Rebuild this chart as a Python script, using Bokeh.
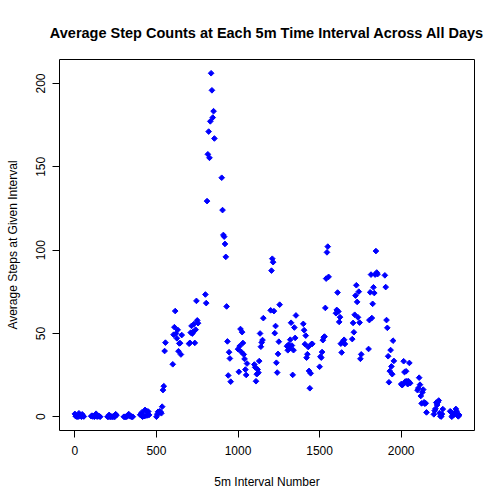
from bokeh.plotting import figure
from bokeh.models import Range1d, FixedTicker, ColumnDataSource
from bokeh.embed import file_html
from bokeh.resources import INLINE

intervals = [h * 100 + m for h in range(24) for m in range(0, 60, 5)]

avg_steps = [
    1.72, 0.34, 0.13, 0.15, 0.08, 2.09, 0.53, 0.87, 0.00, 1.47, 0.30, 0.13,
    0.32, 0.68, 0.15, 0.34, 0.00, 1.11, 1.83, 0.17, 0.17, 0.38, 0.26, 0.00,
    0.00, 0.00, 1.13, 0.00, 0.00, 0.13, 0.00, 0.23, 0.00, 0.00, 1.55, 0.94,
    0.00, 0.00, 0.00, 0.00, 0.21, 0.62, 1.62, 0.58, 0.49, 0.08, 0.00, 0.00,
    1.19, 0.94, 2.57, 0.00, 0.34, 0.36, 4.11, 0.66, 3.49, 0.83, 3.11, 1.11,
    0.00, 1.57, 3.00, 2.25, 3.32, 2.96, 2.09, 6.06, 16.02, 18.34, 39.45, 44.49,
    31.49, 49.26, 53.77, 63.45, 49.96, 47.08, 52.15, 39.34, 44.02, 44.17, 37.36, 49.04,
    43.81, 44.38, 50.51, 54.51, 49.92, 50.98, 55.68, 44.32, 52.26, 69.55, 57.85, 56.15,
    73.38, 68.21, 129.43, 157.53, 171.15, 155.40, 177.30, 206.17, 195.92, 179.57, 183.40, 167.02,
    143.45, 124.04, 109.11, 108.11, 103.72, 95.96, 66.21, 45.23, 24.79, 38.75, 34.98, 21.06,
    40.57, 26.98, 42.42, 52.66, 38.92, 50.79, 44.28, 37.42, 34.70, 28.34, 25.09, 31.94,
    31.36, 29.68, 21.32, 25.55, 28.38, 26.47, 33.43, 49.98, 42.04, 44.60, 46.04, 59.19,
    63.87, 87.70, 94.85, 92.77, 63.40, 50.17, 54.47, 32.42, 26.53, 37.74, 45.06, 67.28,
    42.34, 39.89, 43.26, 40.98, 46.25, 56.43, 42.75, 25.13, 39.96, 53.55, 47.32, 60.81,
    55.75, 51.96, 43.58, 48.70, 35.47, 37.55, 41.85, 27.51, 17.11, 26.08, 43.62, 43.77,
    30.02, 36.08, 35.49, 38.85, 45.96, 47.75, 48.13, 65.32, 82.91, 98.66, 102.11, 83.96,
    62.13, 64.13, 74.55, 63.17, 56.91, 59.77, 43.87, 38.57, 44.66, 45.45, 46.21, 43.68,
    46.62, 56.30, 50.72, 61.23, 72.72, 78.94, 68.94, 59.66, 75.09, 56.51, 34.77, 37.45,
    40.68, 58.02, 74.70, 85.32, 59.26, 67.77, 77.70, 74.25, 85.34, 99.45, 86.58, 85.60,
    84.87, 77.83, 58.04, 53.36, 36.32, 20.72, 27.40, 40.02, 30.21, 25.55, 45.66, 33.53,
    19.62, 19.02, 19.34, 33.34, 26.81, 21.17, 27.30, 21.34, 19.55, 21.32, 32.30, 20.15,
    15.94, 17.23, 23.45, 19.25, 12.45, 8.02, 14.66, 16.30, 8.68, 7.79, 8.13, 2.62,
    1.45, 3.68, 4.81, 8.51, 7.08, 8.70, 9.75, 2.21, 0.32, 0.11, 1.60, 4.60,
    3.30, 2.85, 0.00, 0.83, 0.96, 1.58, 2.60, 4.70, 3.30, 0.64, 0.23, 1.08,
]

x_ticks = [0, 500, 1000, 1500, 2000]
y_ticks = [0, 50, 100, 150, 200]

title_text = "Average Step Counts at Each 5m Time Interval Across All Days"
x_label = "5m Interval Number"
y_label = "Average Steps at Given Interval"

xmin, xmax = min(intervals), max(intervals)
ymin, ymax = min(avg_steps), max(avg_steps)
xpad = 0.04 * (xmax - xmin)
ypad = 0.04 * (ymax - ymin)

FONT = "Liberation Sans"

p = figure(
    width=504, height=504,
    x_range=Range1d(xmin - xpad, xmax + xpad),
    y_range=Range1d(ymin - ypad, ymax + ypad),
    output_backend="svg", toolbar_location=None,
    min_border_left=59, min_border_right=30,
    min_border_top=59, min_border_bottom=74,
    title=title_text,
)

p.title.align = "center"
p.title.text_font = FONT
p.title.text_font_size = "14.5px"
p.title.text_font_style = "bold"
p.title.text_color = "black"
p.title.standoff = 37

p.xgrid.visible = False
p.ygrid.visible = False
p.outline_line_color = "black"
p.outline_line_width = 1
p.background_fill_color = "white"
p.border_fill_color = "white"

for ax, ticks in ((p.xaxis, x_ticks), (p.yaxis, y_ticks)):
    ax.ticker = FixedTicker(ticks=ticks)
    ax.minor_tick_line_color = None
    ax.axis_line_color = None
    ax.major_tick_in = 0
    ax.major_tick_out = 7
    ax.major_tick_line_color = "black"
    ax.major_label_text_font = FONT
    ax.major_label_text_font_size = "12px"
    ax.major_label_text_color = "black"
    ax.axis_label_text_font = FONT
    ax.axis_label_text_font_size = "12px"
    ax.axis_label_text_font_style = "normal"
    ax.axis_label_text_color = "black"

p.xaxis.axis_label = x_label
p.yaxis.axis_label = y_label
p.xaxis.major_label_standoff = 8
p.yaxis.major_label_standoff = 7
p.yaxis.major_label_orientation = "vertical"
p.xaxis.axis_label_standoff = 17
p.yaxis.axis_label_standoff = 14

src = ColumnDataSource(dict(x=intervals, y=avg_steps))
p.scatter("x", "y", source=src, marker="square", angle=0.785398, size=4,
          fill_color="#0000FF", line_color="#0000FF", line_width=1)

open("out.html", "w").write(file_html(p, INLINE))
